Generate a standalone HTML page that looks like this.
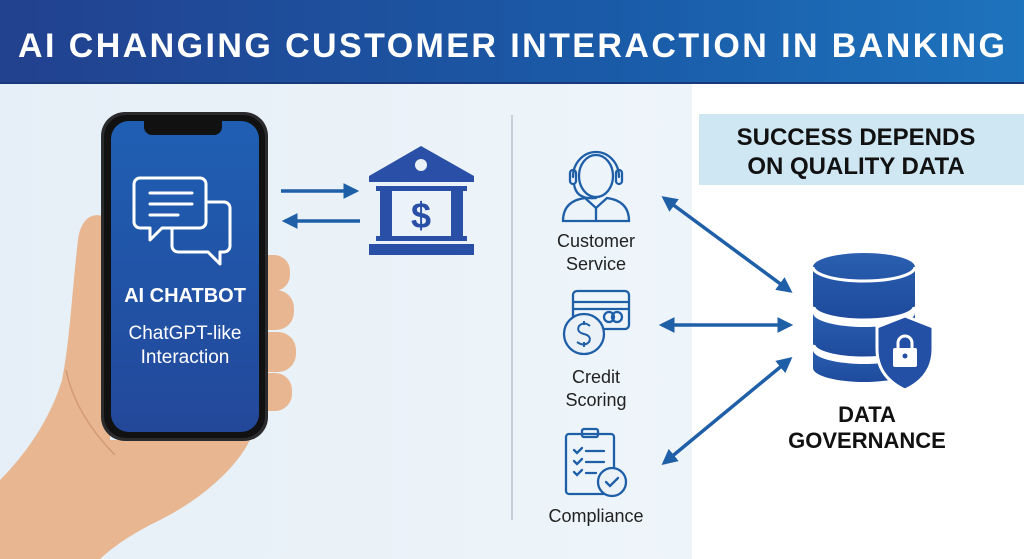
<!DOCTYPE html>
<html><head><meta charset="utf-8"><style>
html,body{margin:0;padding:0;width:1024px;height:559px;overflow:hidden;background:#fff}
svg{display:block}
text{font-family:"Liberation Sans",sans-serif}
</style></head><body>
<svg width="1024" height="559" viewBox="0 0 1024 559" xmlns="http://www.w3.org/2000/svg">
<defs>
<linearGradient id="hd" x1="0" x2="1"><stop offset="0" stop-color="#22418f"/><stop offset="0.6" stop-color="#1a5ba8"/><stop offset="1" stop-color="#1e73bd"/></linearGradient>
<linearGradient id="lb" x1="0" x2="1"><stop offset="0" stop-color="#e6eff7"/><stop offset="1" stop-color="#eef5fa"/></linearGradient>
<linearGradient id="scr" x1="0" y1="0" x2="0" y2="1"><stop offset="0" stop-color="#1f5fb3"/><stop offset="1" stop-color="#23489a"/></linearGradient>
<linearGradient id="db" x1="0" y1="0" x2="0" y2="1"><stop offset="0" stop-color="#2a5fb0"/><stop offset="1" stop-color="#1e4a9c"/></linearGradient>
<marker id="ah" viewBox="0 0 10 10" refX="8" refY="5" markerWidth="4.5" markerHeight="4.5" orient="auto-start-reverse"><path d="M0,0 L10,5 L0,10 z" fill="#1f5fa8"/></marker>
</defs>
<rect x="0" y="84" width="1024" height="475" fill="#fff"/>
<rect x="0" y="84" width="692" height="475" fill="url(#lb)"/>
<rect x="0" y="0" width="1024" height="83" fill="url(#hd)"/>
<rect x="0" y="82" width="1024" height="2" fill="#183a78"/>
<text x="18" y="57" font-size="34" font-weight="bold" fill="#fff" textLength="987" lengthAdjust="spacing">AI CHANGING CUSTOMER INTERACTION IN BANKING</text>

<!-- hand -->
<path d="M0,480 C25,455 50,420 62,380 C70,340 72,290 78,240 C80,222 90,212 102,216 L110,225 L110,440 L250,440 C235,470 200,500 160,520 C135,532 115,545 100,559 L0,559 Z" fill="#e8b792"/>
<g fill="#e8b792">
<rect x="250" y="255" width="40" height="36" rx="16"/>
<rect x="250" y="290" width="44" height="40" rx="18"/>
<rect x="250" y="332" width="46" height="40" rx="18"/>
<rect x="250" y="373" width="42" height="38" rx="17"/>
</g>
<path d="M66,370 C72,400 90,430 115,455" stroke="#d39a76" stroke-width="1.5" fill="none"/>
<!-- phone -->
<rect x="101" y="112" width="167" height="329" rx="24" fill="#2b2b2e"/>
<rect x="104" y="115" width="161" height="323" rx="22" fill="#111"/>
<rect x="111" y="121" width="148" height="311" rx="18" fill="url(#scr)"/>
<path d="M144,121 h78 v6 a8,8 0 0 1 -8,8 h-62 a8,8 0 0 1 -8,-8 z" fill="#111"/>
<!-- chat icon -->
<g fill="none" stroke="#fff" stroke-width="3" stroke-linejoin="round">
<path d="M140,178 h60 a6,6 0 0 1 6,6 v38 a6,6 0 0 1 -6,6 h-38 l-12,12 v-12 h-10 a6,6 0 0 1 -6,-6 v-38 a6,6 0 0 1 6,-6 z"/>
<path d="M206,202 h18 a6,6 0 0 1 6,6 v38 a6,6 0 0 1 -6,6 h-4 v12 l-12,-12 h-30 a6,6 0 0 1 -6,-6 v-18"/>
<path d="M150,193 h42 M150,204 h42 M150,215 h28" stroke-linecap="round"/>
</g>
<text x="185" y="302" font-size="20" font-weight="bold" fill="#fff" text-anchor="middle">AI CHATBOT</text>
<text x="185" y="339" font-size="19" fill="#fff" text-anchor="middle">ChatGPT-like</text>
<text x="185" y="363" font-size="19" fill="#fff" text-anchor="middle">Interaction</text>

<!-- arrows bank -->
<line x1="281" y1="191" x2="356" y2="191" stroke="#1f5fa8" stroke-width="3.5" marker-end="url(#ah)"/>
<line x1="360" y1="221" x2="285" y2="221" stroke="#1f5fa8" stroke-width="3.5" marker-end="url(#ah)"/>
<!-- bank -->
<g fill="#2a4fa6">
<path d="M421,146 L474,176 L474,182 L369,182 L369,176 Z"/>
<circle cx="421" cy="165" r="6" fill="#eaf2f8"/>
<rect x="376" y="186" width="91" height="5"/>
<rect x="380" y="191" width="12" height="45"/><rect x="451" y="191" width="12" height="45"/>
<rect x="376" y="236" width="91" height="5"/>
<rect x="369" y="244" width="105" height="11"/>
</g>
<text x="421" y="228" font-size="36" font-weight="bold" fill="#2a4fa6" text-anchor="middle">$</text>

<line x1="512" y1="115" x2="512" y2="520" stroke="#b8c4cf" stroke-width="1.5"/>

<!-- customer service icon -->
<g fill="none" stroke="#1f5fa8" stroke-width="2.3" stroke-linecap="round">
<ellipse cx="596" cy="176" rx="17" ry="21"/>
<path d="M573,177 a23,25 0 0 1 46,0"/>
<rect x="570" y="170" width="6" height="14" rx="3"/><rect x="616" y="170" width="6" height="14" rx="3"/>
<path d="M574,184 q2,16 22,14"/>
<path d="M563,221 q0,-20 22,-23 l11,10 l11,-10 q22,3 22,23 z"/>
<path d="M596,208 v13"/>
</g>
<text x="596" y="247" font-size="18" fill="#222" text-anchor="middle">Customer</text>
<text x="596" y="270" font-size="18" fill="#222" text-anchor="middle">Service</text>
<!-- credit icon -->
<g fill="none" stroke="#1f5fa8" stroke-width="2.3">
<rect x="573" y="291" width="56" height="38" rx="4"/>
<path d="M573,302 h56 M573,309 h56"/>
<circle cx="609" cy="317" r="5"/><circle cx="617" cy="317" r="5"/>
<circle cx="584" cy="334" r="20" fill="#eaf2f8"/>
<path d="M590,326 q-6,-5 -11,0 q-3,6 5,8 q8,2 5,8 q-5,5 -12,0 M584,321 v4 M584,342 v5" stroke-width="2"/>
</g>
<text x="596" y="383" font-size="18" fill="#222" text-anchor="middle">Credit</text>
<text x="596" y="406" font-size="18" fill="#222" text-anchor="middle">Scoring</text>
<!-- compliance icon -->
<g fill="none" stroke="#1f5fa8" stroke-width="2.3" stroke-linecap="round">
<rect x="566" y="434" width="48" height="60" rx="3"/>
<rect x="582" y="429" width="16" height="8" rx="2"/>
<path d="M574,450 l3,3 l5,-5 M586,451 h18 M574,461 l3,3 l5,-5 M586,462 h18 M574,472 l3,3 l5,-5 M586,473 h10"/>
<circle cx="612" cy="482" r="14" fill="#eaf2f8"/>
<path d="M606,482 l4,4 l8,-8"/>
</g>
<text x="596" y="522" font-size="18" fill="#222" text-anchor="middle">Compliance</text>

<!-- connector arrows -->
<g stroke="#1f5fa8" stroke-width="3.5" marker-start="url(#ah)" marker-end="url(#ah)">
<line x1="664" y1="198" x2="790" y2="291"/>
<line x1="662" y1="325" x2="790" y2="325"/>
<line x1="664" y1="463" x2="790" y2="359"/>
</g>

<!-- success box -->
<rect x="699" y="114" width="325" height="71" fill="#cfe6f3"/>
<text x="856" y="145" font-size="24" font-weight="bold" fill="#111" text-anchor="middle">SUCCESS DEPENDS</text>
<text x="856" y="174" font-size="24" font-weight="bold" fill="#111" text-anchor="middle">ON QUALITY DATA</text>

<!-- database -->
<g fill="url(#db)">
<path d="M813,267 a51,14 0 0 1 102,0 v38 a51,14 0 0 1 -102,0 z"/>
<path d="M813,313 a51,14 0 0 0 102,0 v30 a51,14 0 0 1 -102,0 z"/>
<path d="M813,350 a51,14 0 0 0 102,0 v18 a51,14 0 0 1 -102,0 z"/>
</g>
<path d="M813,267 a51,14 0 0 0 102,0" fill="none" stroke="#fff" stroke-width="3"/>
<path d="M813,307 a51,14 0 0 0 102,0 M813,345 a51,14 0 0 0 102,0" fill="none" stroke="#fff" stroke-width="5"/>
<path d="M905,316 l28,11 v22 q0,28 -28,41 q-28,-13 -28,-41 v-22 z" fill="#2350a5" stroke="#fff" stroke-width="3"/>
<rect x="893" y="348" width="24" height="19" rx="2" fill="#fff"/>
<path d="M898,349 v-6 a7,7 0 0 1 14,0 v6" fill="none" stroke="#fff" stroke-width="3"/>
<circle cx="905" cy="356" r="2.5" fill="#2350a5"/>
<text x="867" y="422" font-size="22" font-weight="bold" fill="#111" text-anchor="middle">DATA</text>
<text x="867" y="448" font-size="22" font-weight="bold" fill="#111" text-anchor="middle">GOVERNANCE</text>
</svg>
</body></html>
